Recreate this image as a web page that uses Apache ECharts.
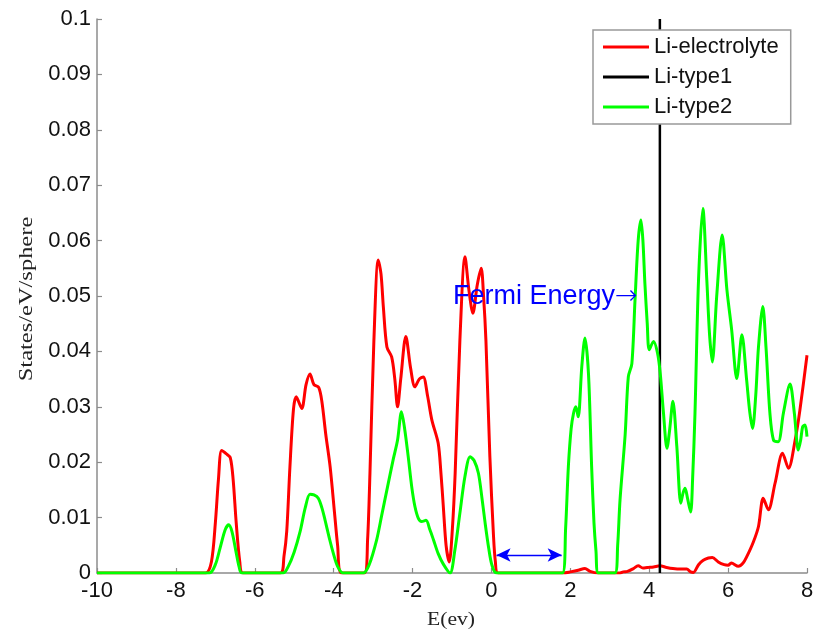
<!DOCTYPE html>
<html>
<head>
<meta charset="utf-8">
<script src="https://cdn.jsdelivr.net/npm/echarts@6/dist/echarts.min.js"></script>
<style>html,body{margin:0;padding:0;background:#fff}#c{width:824px;height:631px}</style>
</head>
<body>
<div id="c"></div>
<script>
// ---- data ----
const seriesNames = ['Li-electrolyte', 'Li-type1', 'Li-type2'];
const xTicks = [-10, -8, -6, -4, -2, 0, 2, 4, 6, 8];
const yTicks = [0, 0.01, 0.02, 0.03, 0.04, 0.05, 0.06, 0.07, 0.08, 0.09, 0.1];

const liElectrolyte = [
  [-10,0],[-7.25,0],[-7.1,0.002],[-7.0,0.009],[-6.92,0.017],[-6.84,0.0221],[-6.72,0.0215],[-6.62,0.0208],[-6.55,0.017],[-6.47,0.009],[-6.38,0.002],[-6.3,0],
  [-5.35,0],[-5.26,0.003],[-5.19,0.0075],[-5.11,0.019],[-5.02,0.0295],[-4.95,0.0318],[-4.81,0.0297],[-4.7,0.034],[-4.6,0.0359],[-4.5,0.034],[-4.38,0.0335],[-4.3,0.031],[-4.2,0.025],[-4.09,0.0192],[-3.98,0.011],[-3.9,0.005],[-3.8,0],
  [-3.22,0],[-3.14,0.006],[-3.08,0.018],[-2.98,0.042],[-2.87,0.0565],[-2.8,0.054],[-2.74,0.048],[-2.65,0.0408],[-2.53,0.039],[-2.45,0.035],[-2.38,0.030],[-2.3,0.035],[-2.17,0.0427],[-2.05,0.037],[-1.94,0.0336],[-1.83,0.035],[-1.73,0.0354],[-1.62,0.032],[-1.51,0.0276],[-1.35,0.0234],[-1.28,0.018],[-1.22,0.012],[-1.15,0.005],[-1.07,0.002],[-0.99,0.008],[-0.92,0.018],[-0.8,0.042],[-0.67,0.0571],[-0.57,0.051],[-0.47,0.0469],[-0.36,0.052],[-0.26,0.055],[-0.2,0.05],[-0.14,0.042],[-0.04,0.021],[0.05,0.007],[0.1,0.002],[0.17,0],
  [1.8,0],[2.0,0.0002],[2.2,0.0005],[2.37,0.0008],[2.5,0.0003],[2.7,0],[3.26,0],[3.34,0.0002],[3.45,0.0003],[3.6,0.0008],[3.72,0.0013],[3.84,0.0009],[3.95,0.001],[4.11,0.0011],[4.27,0.0013],[4.44,0.001],[4.6,0.0008],[4.8,0.0007],[4.95,0.0007],[5.05,0.0002],[5.12,0.0001],[5.25,0.0015],[5.37,0.0023],[5.5,0.0027],[5.6,0.0028],[5.75,0.002],[5.9,0.0015],[6.0,0.0014],[6.08,0.0018],[6.26,0.0012],[6.38,0.0018],[6.47,0.0029],[6.64,0.0056],[6.77,0.0084],[6.89,0.0135],[7.02,0.0114],[7.19,0.0162],[7.38,0.0216],[7.53,0.0189],[7.7,0.024],[7.82,0.0294],[8.0,0.0393]
];

const liType1 = [[4.27, 0], [4.27, 0.1]];

const liType2 = [
  [-10,0],[-7.15,0],[-7.0,0.0015],[-6.88,0.0045],[-6.75,0.0078],[-6.66,0.0087],[-6.58,0.0075],[-6.48,0.004],[-6.4,0.0012],[-6.33,0],
  [-5.28,0],[-5.15,0.0012],[-5.0,0.0038],[-4.85,0.0075],[-4.72,0.0118],[-4.6,0.0142],[-4.5,0.0141],[-4.39,0.0135],[-4.3,0.0118],[-4.22,0.0096],[-4.1,0.006],[-4.01,0.0036],[-3.9,0.0012],[-3.76,0],
  [-3.25,0],[-3.1,0.0015],[-2.91,0.006],[-2.78,0.0105],[-2.65,0.015],[-2.49,0.0205],[-2.38,0.024],[-2.28,0.0291],[-2.2,0.026],[-2.11,0.021],[-2.02,0.0155],[-1.94,0.012],[-1.85,0.0098],[-1.77,0.0093],[-1.66,0.0095],[-1.56,0.0078],[-1.47,0.006],[-1.35,0.0035],[-1.22,0.0016],[-1.05,0],[-0.93,0.004],[-0.8,0.0108],[-0.67,0.0175],[-0.54,0.021],[-0.44,0.0203],[-0.33,0.018],[-0.24,0.0135],[-0.16,0.009],[-0.07,0.0045],[0.01,0.0015],[0.13,0],
  [1.8,0],[1.88,0.008],[1.95,0.0192],[2.02,0.026],[2.08,0.0288],[2.14,0.030],[2.2,0.0282],[2.29,0.0372],[2.37,0.0424],[2.46,0.036],[2.54,0.0192],[2.6,0.009],[2.65,0.004],[2.71,0],
  [3.13,0],[3.2,0.005],[3.26,0.0132],[3.39,0.025],[3.47,0.0354],[3.56,0.0378],[3.64,0.0493],[3.72,0.06],[3.79,0.0637],[3.84,0.06],[3.89,0.0523],[3.95,0.045],[4.0,0.0403],[4.11,0.0418],[4.21,0.0397],[4.28,0.036],[4.36,0.029],[4.45,0.0225],[4.52,0.026],[4.6,0.031],[4.7,0.0228],[4.8,0.0126],[4.86,0.0145],[4.91,0.0153],[4.97,0.0135],[5.05,0.011],[5.1,0.017],[5.16,0.0288],[5.25,0.0529],[5.36,0.0658],[5.46,0.0529],[5.53,0.043],[5.6,0.0381],[5.71,0.0499],[5.85,0.061],[5.97,0.0511],[6.09,0.0439],[6.22,0.0351],[6.35,0.043],[6.47,0.0348],[6.55,0.029],[6.62,0.0261],[6.7,0.032],[6.77,0.0408],[6.88,0.0481],[6.96,0.0408],[7.06,0.0288],[7.15,0.024],[7.27,0.0237],[7.4,0.0288],[7.57,0.0341],[7.68,0.0288],[7.78,0.0222],[7.84,0.024],[7.89,0.0264],[7.95,0.0267],[8.0,0.0246]
];

const gapArrow = [[0.13, 0.00325], [1.78, 0.00325]];
const fermiText = 'Fermi Energy';
const fermiArrow = '\u2192';
const xName = 'E(ev)';
const yName = 'States/eV/sphere';

// ---- chart ----
const chart = echarts.init(document.getElementById('c'), null, {renderer: 'canvas'});
const axisColor = '#8c8c8c';
const tickFont = {fontFamily: 'Liberation Sans, Arial, sans-serif', fontSize: 22, color: '#111'};

chart.setOption({
  animation: false,
  backgroundColor: '#fff',
  grid: {left: 97, right: 17, top: 19, bottom: 58, containLabel: false},
  xAxis: {
    type: 'value', min: xTicks[0], max: xTicks[xTicks.length - 1], interval: 2,
    axisLine: {show: true, onZero: false, lineStyle: {color: axisColor, width: 1.5}},
    axisTick: {show: true, inside: true, length: 5, lineStyle: {color: axisColor, width: 1.2}},
    splitLine: {show: false},
    axisLabel: Object.assign({margin: 7}, tickFont)
  },
  yAxis: {
    type: 'value', min: yTicks[0], max: yTicks[yTicks.length - 1], interval: 0.01,
    axisLine: {show: true, onZero: false, lineStyle: {color: axisColor, width: 1.5}},
    axisTick: {show: true, inside: true, length: 5, lineStyle: {color: axisColor, width: 1.2}},
    splitLine: {show: false},
    axisLabel: Object.assign({margin: 6, formatter: v => v === 0 ? '0' : String(+v.toFixed(2))}, tickFont)
  },
  legend: {
    orient: 'vertical', left: 593, top: 30,
    padding: [6, 12, 6, 10], itemGap: 8, itemWidth: 46, itemHeight: 3,
    icon: 'rect',
    backgroundColor: '#fff', borderColor: '#999', borderWidth: 1.5, borderRadius: 0,
    textStyle: {fontFamily: 'Liberation Sans, Arial, sans-serif', fontSize: 22, color: '#111', lineHeight: 22},
    data: seriesNames
  },
  series: [
    {name: seriesNames[0], type: 'line', data: liElectrolyte, symbol: 'none', smooth: 0.3,
     lineStyle: {color: '#ff0000', width: 3}, itemStyle: {color: '#ff0000'}, z: 2},
    {name: seriesNames[1], type: 'line', data: liType1, symbol: 'none',
     lineStyle: {color: '#000000', width: 2.5}, itemStyle: {color: '#000000'}, z: 3},
    {name: seriesNames[2], type: 'line', data: liType2, symbol: 'none', smooth: 0.3,
     lineStyle: {color: '#00ff00', width: 3}, itemStyle: {color: '#00ff00'}, z: 4,
     markLine: {
       silent: true, animation: false, symbol: ['arrow', 'arrow'], symbolSize: [10, 14],
       label: {show: false},
       lineStyle: {color: '#0000ff', width: 1.3, type: 'solid'},
       data: [[{coord: gapArrow[0]}, {coord: gapArrow[1]}]]
     }}
  ],
  graphic: [
    {type: 'text', x: 453, y: 297, z: 100,
     style: {
       text: '{a|' + fermiText + '}{b|' + fermiArrow + '}',
       textAlign: 'left', textVerticalAlign: 'middle',
       rich: {
         a: {fontFamily: '"Liberation Sans", Arial, sans-serif', fontSize: 27, fill: '#0000ff', color: '#0000ff'},
         b: {fontFamily: '"DejaVu Sans", sans-serif', fontSize: 27, fill: '#0000ff', color: '#0000ff', fontWeight: 200}
       }
     }},
    {type: 'text', x: 451, y: 620, scaleX: 1.2, z: 100,
     style: {text: xName, fill: '#222', font: '18px "Liberation Serif", "Times New Roman", serif', textAlign: 'center', textVerticalAlign: 'middle'}},
    {type: 'text', x: 27, y: 299, rotation: Math.PI / 2, scaleX: 1.36, z: 100,
     style: {text: yName, fill: '#222', font: '18px "Liberation Serif", "Times New Roman", serif', textAlign: 'center', textVerticalAlign: 'middle'}}
  ]
});
</script>
</body>
</html>
